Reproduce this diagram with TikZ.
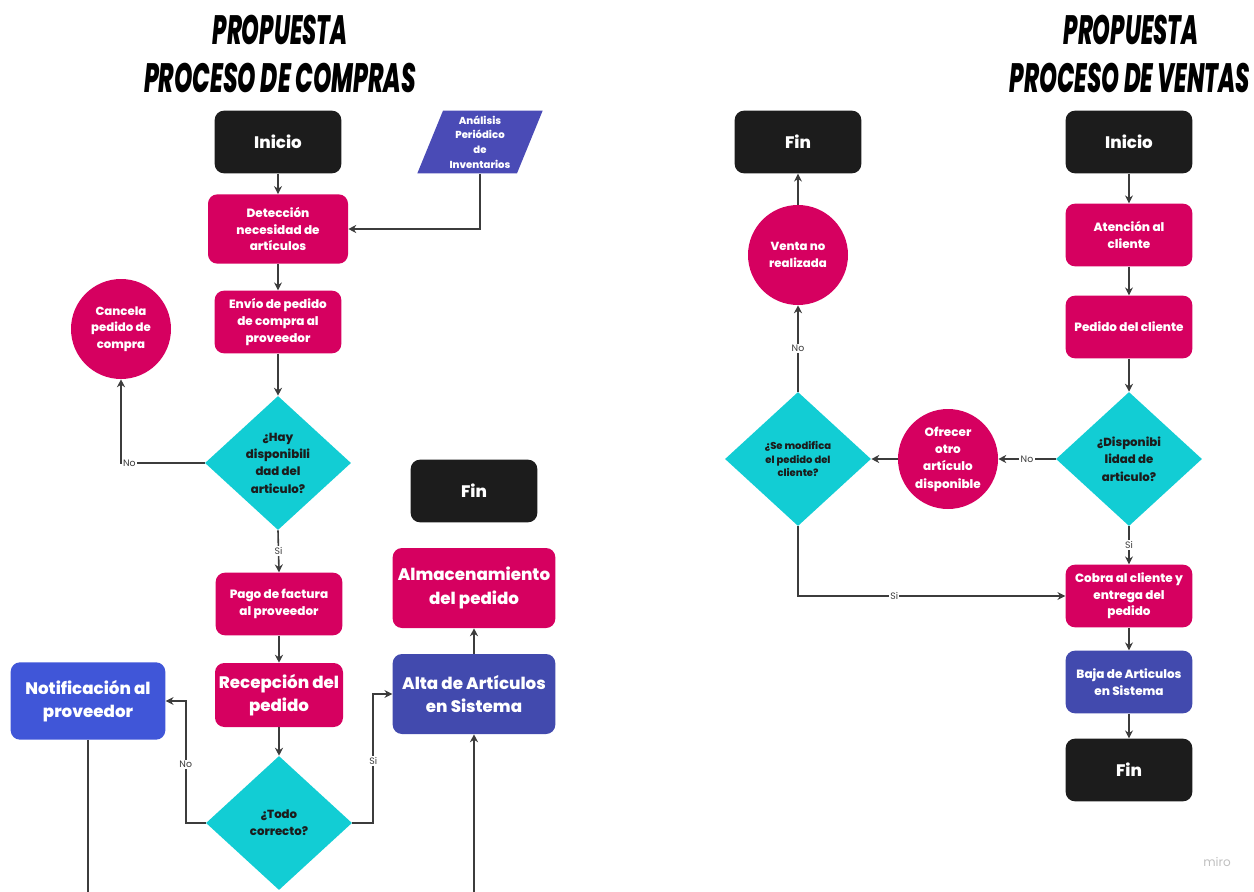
\documentclass[tikz,border=0pt]{standalone}
\usepackage{fontspec}
\usepackage{graphicx}
\setmainfont{Poppins}[BoldFont={Poppins ExtraBold}]
\newfontfamily\titulofont{Poppins}[BoldFont={Poppins ExtraBold}]
\usetikzlibrary{shapes.geometric,arrows.meta}
\definecolor{rosa}{HTML}{D60060}
\definecolor{cian}{HTML}{12CDD4}
\definecolor{negro}{HTML}{1C1C1C}
\definecolor{azulnot}{HTML}{4056D8}
\definecolor{azulosc}{HTML}{424AAE}
\definecolor{azulpar}{HTML}{4A4BB6}
\definecolor{gris}{HTML}{3C3C3C}
\newcommand{\titulo}[3]{\resizebox{#1}{#2}{\titulofont\bfseries\itshape #3}}
\begin{document}
\begin{tikzpicture}[x=0.75pt,y=-0.75pt,
  caja/.style={rectangle,rounded corners=7pt,minimum width=95pt,minimum height=47pt,
    align=center,text=white,inner sep=2pt,font=\bfseries\fontsize{9}{12.5}\selectfont},
  rosa/.style={caja,fill=rosa},
  negro/.style={caja,fill=negro,font=\bfseries\fontsize{12.5}{14}\selectfont},
  azul/.style={caja,fill=azulosc},
  grande/.style={minimum width=122pt,minimum height=60pt,font=\bfseries\fontsize{12.5}{17.5}\selectfont},
  rombo/.style={diamond,fill=cian,minimum width=109.5pt,minimum height=100.5pt,inner sep=0pt},
  rombotxt/.style={align=center,text=negro,font=\bfseries\fontsize{8.8}{13}\selectfont},
  circulo/.style={circle,fill=rosa,minimum size=75pt,inner sep=0pt,align=center,text=white,
    font=\bfseries\fontsize{8.8}{12.5}\selectfont},
  flecha/.style={draw=gris,line width=1.2pt,-{Stealth[length=6pt,width=6pt]}},
  linea/.style={draw=gris,line width=1.2pt},
  etiq/.style={fill=white,text=gris,inner sep=1pt,font=\fontsize{7}{7}\selectfont},
]
\useasboundingbox (0,0) rectangle (1254,892);

% titulos
\node (tit1) at (280,30) {\titulo{101pt}{22pt}{PROPUESTA}};
\node (tit2) at (280,78) {\titulo{204pt}{22pt}{PROCESO DE COMPRAS}};
\node (tit3) at (1131,30) {\titulo{101pt}{22pt}{PROPUESTA}};
\node (tit4) at (1130,78) {\titulo{180pt}{22pt}{PROCESO DE VENTAS}};

% compras
\node[negro] (inicio1) at (278,142) {Inicio};
\node[trapezium,trapezium left angle=64,trapezium right angle=116,trapezium stretches body,
  fill=azulpar,minimum width=94pt,minimum height=47pt,inner sep=0pt,align=center,text=white,
  font=\bfseries\fontsize{7.6}{11}\selectfont] (analisis) at (480,142)
  {Análisis\\Periódico\\de\\Inventarios};
\node[rosa,minimum width=105pt,minimum height=52pt] (deteccion) at (278,229)
  {Detección\\necesidad de\\artículos};
\node[rosa] (envio) at (278,322) {Envío de pedido\\de compra al\\proveedor};
\node[circulo] (cancela) at (121,329) {Cancela\\pedido de\\compra};
\node[rombo,label={[rombotxt]center:{¿Hay\\disponibili\\dad del\\articulo?}}] (hay) at (278,463) {};
\node[rosa] (pago) at (279,604) {Pago de factura\\al proveedor};
\node[rosa,grande,minimum width=96pt,minimum height=48pt] (recepcion) at (279,695) {Recepción del\\pedido};
\node[rombo,label={[rombotxt]center:{¿Todo\\correcto?}}] (todo) at (279,823) {};
\node[caja,grande,fill=azulnot,minimum width=116pt,minimum height=58pt] (notif) at (88,701)
  {Notificación al\\proveedor};
\node[azul,grande] (alta) at (474,694) {Alta de Artículos\\en Sistema};
\node[rosa,grande] (almac) at (474,588) {Almacenamiento\\del pedido};
\node[negro] (fin1) at (474,491) {Fin};
\coordinate (notifbajo) at (88,895);
\coordinate (altabajo) at (474,895);

\draw[flecha] (inicio1) -- (deteccion);
\draw[flecha] (analisis.south) |- (deteccion.east);
\draw[flecha] (deteccion) -- (envio);
\draw[flecha] (envio) -- (hay);
\draw[flecha] (hay.west) -| node[etiq,pos=0.45]{No} (cancela.south);
\draw[flecha] (hay.south) -- node[etiq]{Si} (pago.north);
\draw[flecha] (pago) -- (recepcion);
\draw[flecha] (recepcion) -- (todo.north);
\draw[flecha] (todo.west) -- ++(-20,0) |- node[etiq,pos=0.24]{No} (notif.east);
\draw[flecha] (todo.east) -- ++(21,0) |- node[etiq,pos=0.24]{Si} (alta.west);
\draw[linea] (notif.south) -- (notifbajo);
\draw[flecha] (altabajo) -- (alta.south);
\draw[flecha] (alta) -- (almac);

% ventas
\node[negro] (fin2) at (798,142) {Fin};
\node[negro] (inicio2) at (1129,142) {Inicio};
\node[rosa] (atencion) at (1129,235) {Atención al\\cliente};
\node[rosa] (pedido) at (1129,327) {Pedido del cliente};
\node[rombo,label={[rombotxt]center:{¿Disponibi\\lidad de\\articulo?}}] (disp) at (1129,459) {};
\node[circulo,font=\bfseries\fontsize{9}{13}\selectfont] (ofrecer) at (948,459)
  {Ofrecer\\otro\\artículo\\disponible};
\node[rombo,label={[rombotxt,font=\bfseries\fontsize{7.5}{10}\selectfont]center:{¿Se modifica\\el pedido del\\cliente?}}]
  (modif) at (798,459) {};
\node[circulo] (venta) at (798,255) {Venta no\\realizada};
\node[rosa] (cobra) at (1129,596) {Cobra al cliente y\\entrega del\\pedido};
\node[azul] (baja) at (1129,682) {Baja de Articulos\\en Sistema};
\node[negro] (fin3) at (1129,770) {Fin};
\node[text=black!25,font=\fontsize{9}{9}\selectfont] (miro) at (1217,862) {miro};

\draw[flecha] (inicio2) -- (atencion);
\draw[flecha] (atencion) -- (pedido);
\draw[flecha] (pedido) -- (disp.north);
\draw[flecha] (disp.west) -- node[etiq]{No} (ofrecer.east);
\draw[flecha] (ofrecer.west) -- (modif.east);
\draw[flecha] (modif.north) -- node[etiq]{No} (venta.south);
\draw[flecha] (venta) -- (fin2);
\draw[flecha] (modif.south) |- node[etiq,pos=0.68]{Si} (cobra.west);
\draw[flecha] (disp.south) -- node[etiq]{Si} (cobra.north);
\draw[flecha] (cobra) -- (baja);
\draw[flecha] (baja) -- (fin3);
\end{tikzpicture}
\end{document}
